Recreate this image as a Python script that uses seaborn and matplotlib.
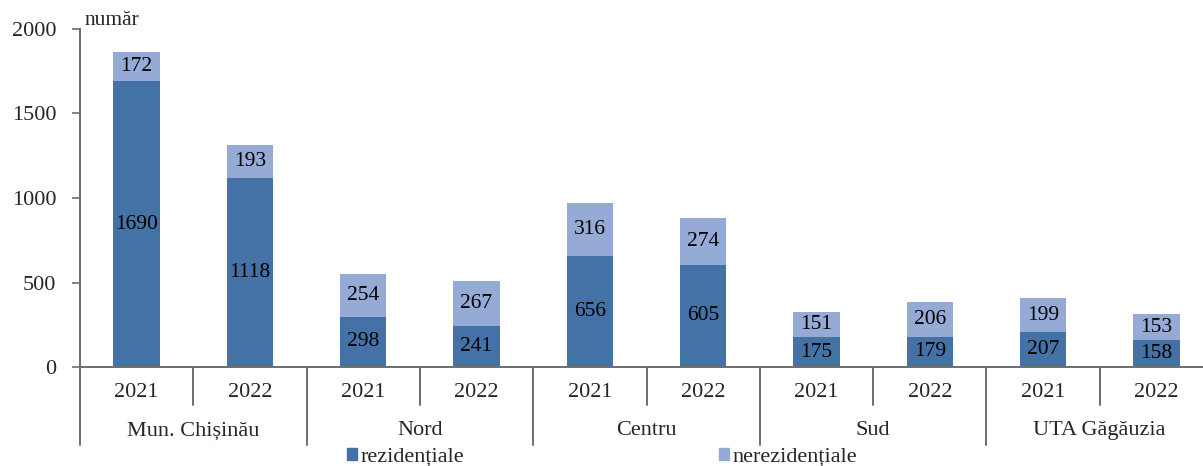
import numpy as np
import pandas as pd
import matplotlib
matplotlib.use("Agg")
import matplotlib.pyplot as plt
import seaborn as sns
from matplotlib.patches import Patch

regions = ["Mun. Chișinău", "Nord", "Centru", "Sud", "UTA Găgăuzia"]
years = ["2021", "2022"]
rezidentiale = [1690, 1118, 298, 241, 656, 605, 175, 179, 207, 158]
nerezidentiale = [172, 193, 254, 267, 316, 274, 151, 206, 199, 153]

dark = "#4472A7"
light = "#95ABD5"
line_col = "#6d6d6d"

sns.set_style("white")
plt.rcParams["font.family"] = ["Liberation Serif", "DejaVu Serif"]

labels = [f"{r}\n{y}" for r in regions for y in years]
df = pd.DataFrame({
    "bar": labels,
    "rez": rezidentiale,
    "nerez": nerezidentiale,
})
df["total"] = df["rez"] + df["nerez"]

fig = plt.figure(figsize=(12.03, 4.66), dpi=100)
ax = fig.add_axes([80 / 1203, 99 / 466, 1133 / 1203, 338 / 466])

sns.barplot(data=df, x="bar", y="total", color=light, width=0.41,
            saturation=1, linewidth=0, ax=ax)
sns.barplot(data=df, x="bar", y="rez", color=dark, width=0.41,
            saturation=1, linewidth=0, ax=ax)

for i, row in df.iterrows():
    ax.text(i, row["rez"] / 2, str(row["rez"]), ha="center", va="center",
            fontsize=15.5, color="black")
    ax.text(i, row["rez"] + row["nerez"] / 2, str(row["nerez"]),
            ha="center", va="center", fontsize=15.5, color="black")

ax.set_xlim(-0.5, len(labels) - 0.5)
ax.set_ylim(0, 2000)
ax.set_yticks([0, 500, 1000, 1500, 2000])
ax.set_xticks([])
ax.set_xlabel("")
ax.set_ylabel("")
ax.tick_params(axis="y", direction="out", length=6, width=1.2,
               color=line_col, labelsize=16, pad=11, left=True)

for s in ["top", "right"]:
    ax.spines[s].set_visible(False)
for s in ["left", "bottom"]:
    ax.spines[s].set_color(line_col)
    ax.spines[s].set_linewidth(1.4)

trans = ax.get_xaxis_transform()
# year labels and separators
for i, lab in enumerate(labels):
    ax.text(i, -0.074, lab.split("\n")[1], transform=trans, ha="center",
            va="center", fontsize=16)
for k in range(len(regions)):
    mid = 2 * k + 0.5
    ax.plot([mid, mid], [0, -0.112], transform=trans, color=line_col,
            lw=1.4, clip_on=False)
    left = 2 * k - 0.5
    ax.plot([left, left], [0, -0.231], transform=trans, color=line_col,
            lw=1.4, clip_on=False)
    ax.text(mid, -0.189, regions[k], transform=trans, ha="center",
            va="center", fontsize=16)

ax.text(0.004, 1.024, "număr", transform=ax.transAxes, ha="left",
        va="center", fontsize=15.5)

handles = [Patch(color=dark, label="rezidențiale"),
           Patch(color=light, label="nerezidențiale")]
fig.legend(handles=handles, loc="center", bbox_to_anchor=(602 / 1203, 9 / 466),
           ncol=2, frameon=False, fontsize=16, handlelength=0.45,
           handleheight=0.45, handletextpad=0.15, columnspacing=11.5,
           borderpad=0)

fig.savefig("out.png", dpi=100)
